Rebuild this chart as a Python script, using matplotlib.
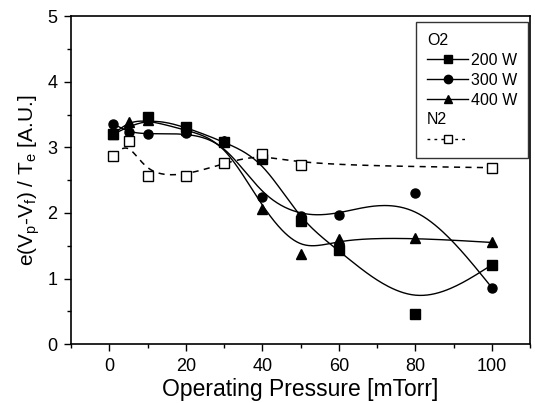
import matplotlib
matplotlib.use("Agg")
import matplotlib.pyplot as plt
from matplotlib.lines import Line2D
from matplotlib.ticker import MultipleLocator
import numpy as np

plt.rcParams['font.family'] = ['Liberation Sans', 'DejaVu Sans']
plt.rcParams['mathtext.fontset'] = 'custom'
plt.rcParams['mathtext.rm'] = 'Liberation Sans'
plt.rcParams['mathtext.it'] = 'Liberation Sans'

# O2 series
x_200 = [1, 10, 20, 30, 40, 50, 60, 80, 100]
y_200 = [3.20, 3.46, 3.31, 3.08, 2.82, 1.87, 1.43, 0.46, 1.21]
x_300 = [1, 5, 10, 20, 30, 40, 50, 60, 80, 100]
y_300 = [3.36, 3.23, 3.20, 3.22, 3.09, 2.24, 1.95, 1.97, 2.31, 0.86]
x_400 = [1, 5, 10, 20, 30, 40, 50, 60, 80, 100]
y_400 = [3.20, 3.39, 3.42, 3.26, 3.10, 2.06, 1.38, 1.61, 1.62, 1.55]
# N2 series
x_n2 = [1, 5, 10, 20, 30, 40, 50, 100]
y_n2 = [2.87, 3.10, 2.57, 2.57, 2.76, 2.90, 2.73, 2.69]


def bspline(xs, ys, per_seg=40):
    # uniform cubic B-spline, data points as control points,
    # reflected phantom points so the curve hits both ends
    P = np.column_stack([xs, ys]).astype(float)
    Q = np.vstack([2 * P[0] - P[1], P, 2 * P[-1] - P[-2]])
    t = np.linspace(0, 1, per_seg)
    B = np.column_stack([(1 - t) ** 3,
                         3 * t ** 3 - 6 * t ** 2 + 4,
                         -3 * t ** 3 + 3 * t ** 2 + 3 * t + 1,
                         t ** 3]) / 6.0
    pts = [B @ Q[i:i + 4] for i in range(len(Q) - 3)]
    pts = np.vstack(pts)
    return pts[:, 0], pts[:, 1]


fig = plt.figure(figsize=(5.35, 4.03), dpi=100)
ax = fig.add_axes([0.133, 0.146, 0.858, 0.814])

ms = 6.5
for xs, ys, mk in [(x_200, y_200, 's'), (x_300, y_300, 'o'), (x_400, y_400, '^')]:
    bx, by = bspline(xs, ys)
    ax.plot(bx, by, color='black', lw=1.0)
    ax.plot(xs, ys, linestyle='none', marker=mk, color='black', ms=ms)

bx, by = bspline(x_n2, y_n2)
ax.plot(bx, by, color='black', lw=1.1, linestyle=(0, (4, 3.5)))
ax.plot(x_n2, y_n2, linestyle='none', marker='s', mfc='white', mec='black', mew=1.0, ms=ms)

ax.set_xlim(-10, 110)
ax.set_ylim(0, 5)
ax.xaxis.set_major_locator(MultipleLocator(20))
ax.xaxis.set_minor_locator(MultipleLocator(10))
ax.yaxis.set_major_locator(MultipleLocator(1))
ax.yaxis.set_minor_locator(MultipleLocator(0.5))
ax.tick_params(which='both', direction='out', labelsize=13, width=1)
ax.tick_params(which='major', length=5, pad=5)
ax.tick_params(which='minor', length=3)
for s in ax.spines.values():
    s.set_linewidth(1.2)

ax.set_xlabel('Operating Pressure [mTorr]', fontsize=16.5, labelpad=2)
ax.set_ylabel(r'e(V$_\mathrm{p}$-V$_\mathrm{f}$) / T$_\mathrm{e}$ [A.U.]', fontsize=15, labelpad=4)

handles = [
    Line2D([], [], color='none'),
    Line2D([], [], color='black', marker='s', ms=6, lw=1),
    Line2D([], [], color='black', marker='o', ms=6, lw=1),
    Line2D([], [], color='black', marker='^', ms=6, lw=1),
    Line2D([], [], color='none'),
    Line2D([], [], color='black', marker='s', mfc='white', ms=6, lw=1, linestyle=(0, (2, 3))),
]
labels = [' ', '200 W', '300 W', '400 W', ' ', ' ']
leg = ax.legend(handles, labels, loc='upper right', bbox_to_anchor=(0.996, 0.982),
                fontsize=11.5, frameon=True, fancybox=False, edgecolor='black',
                handlelength=2.6, handletextpad=0.15, labelspacing=0.3,
                borderpad=0.7, borderaxespad=0)
leg.get_frame().set_linewidth(1.0)

fig.canvas.draw()
inv = fig.transFigure.inverted()
for i, name in [(0, 'O2'), (4, 'N2')]:
    bb = leg.legend_handles[i].get_window_extent()
    tb = leg.get_texts()[i].get_window_extent()
    x0, _ = inv.transform((bb.x0, 0))
    _, yc = inv.transform((0, (tb.y0 + tb.y1) / 2))
    fig.text(x0, yc, name, fontsize=11.5, va='center', ha='left')

fig.savefig('out.png', dpi=100)
